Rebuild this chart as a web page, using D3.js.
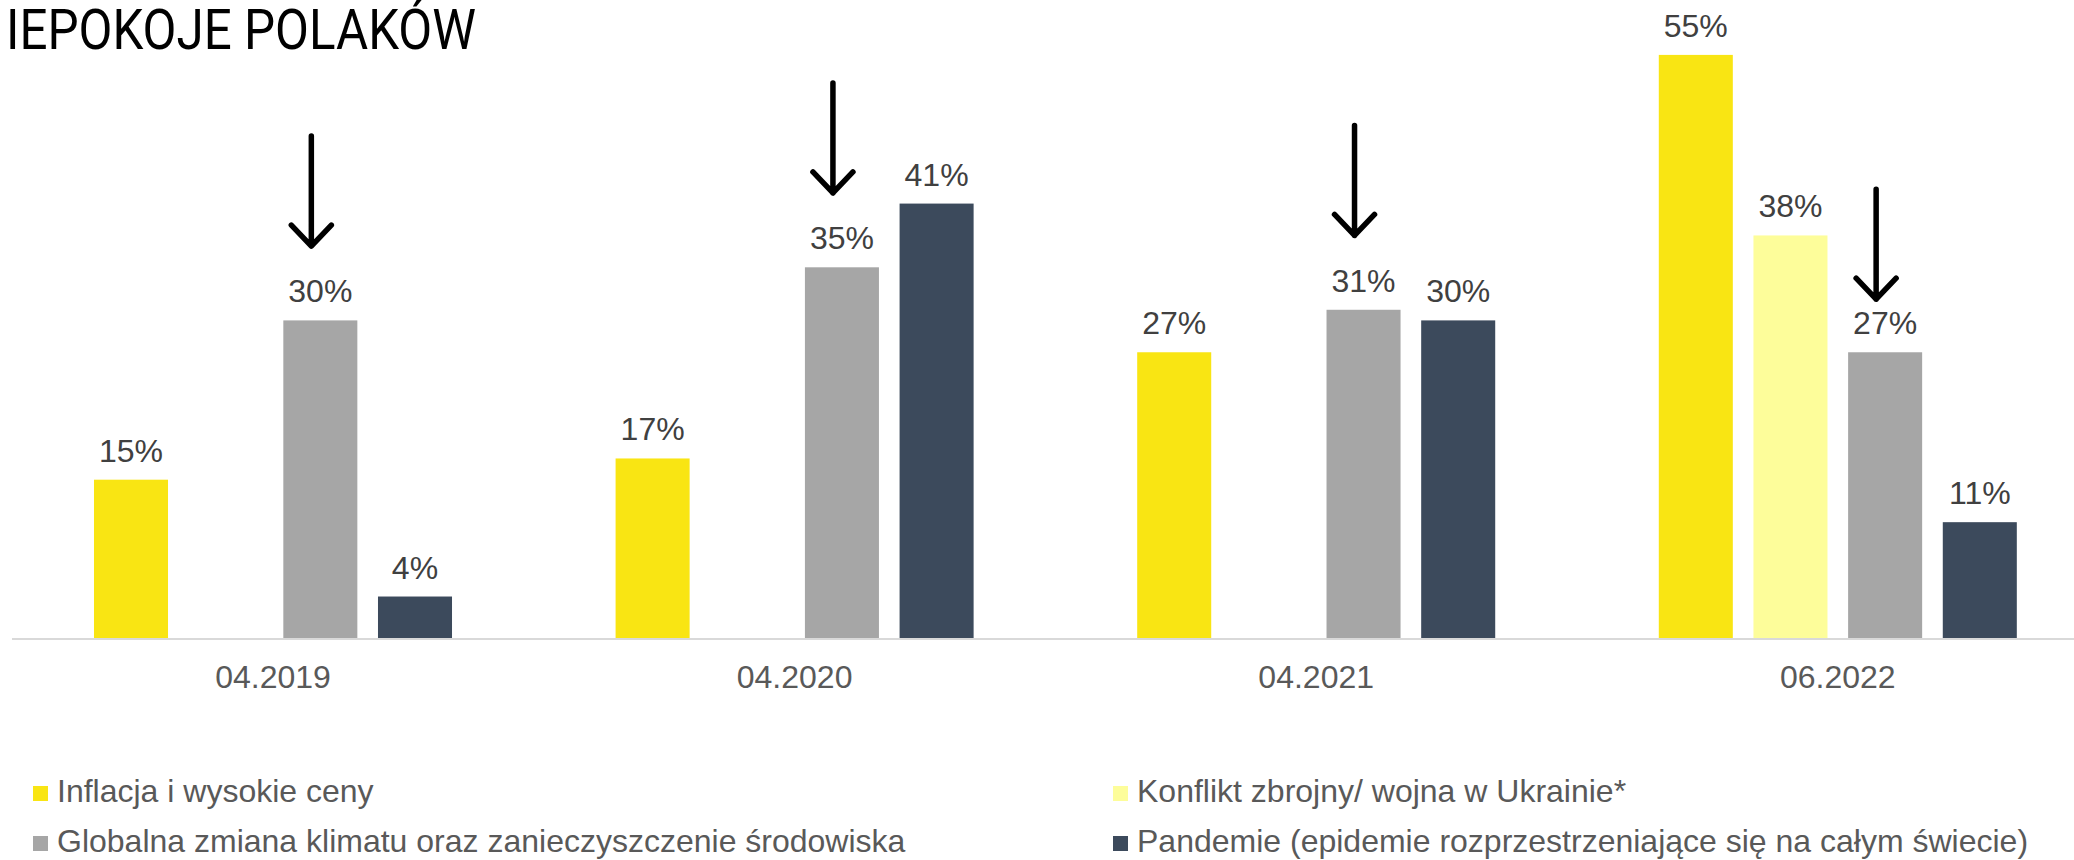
<!DOCTYPE html>
<html>
<head>
<meta charset="utf-8">
<script src="https://cdn.jsdelivr.net/npm/d3@7"></script>
<style>
    body { margin: 0; background: #fff; }
    svg { display: block; font-family: "Liberation Sans", Arial, sans-serif; }
</style>
</head>
<body>
<svg id="chart" width="2074" height="860"></svg>
<script>
// data
const categories = ["04.2019", "04.2020", "04.2021", "06.2022"];
const seriesNames = [
    "Inflacja i wysokie ceny",
    "Konflikt zbrojny/ wojna w Ukrainie*",
    "Globalna zmiana klimatu oraz zanieczyszczenie środowiska",
    "Pandemie (epidemie rozprzestrzeniające się na całym świecie)"
];
const inflacja = [15, 17, 27, 55];
const konflikt = [null, null, null, 38];
const klimat = [30, 35, 31, 27];
const pandemie = [4, 41, 30, 11];
// arrows point at the climate bar, tip height in %
const arrowTips = [37, 42, 38, 32];

const colors = ["#f9e513", "#fdfd9a", "#a6a6a6", "#3c4a5c"];
const allSeries = [inflacja, konflikt, klimat, pandemie];

const svg = d3.select("#chart");
const baseY = 639;

const x = d3.scaleBand()
    .domain(categories)
    .range([12.2, 12.2 + 4 * 521.6])
    .padding(0);

const xs = d3.scaleBand()
    .domain(d3.range(seriesNames.length))
    .range([0, x.bandwidth()])
    .paddingInner(0.218)
    .paddingOuter(0.864);

const y = d3.scaleLinear()
    .domain([0, 60])
    .range([baseY, baseY - 60 * 10.62]);

// title (the first letter is cut off in the original)
svg.append("text")
    .attr("x", 6)
    .attr("y", 49)
    .attr("textLength", 470)
    .attr("lengthAdjust", "spacingAndGlyphs")
    .style("font-family", "Roboto, 'DejaVu Sans Condensed', sans-serif")
    .style("font-weight", 400)
    .style("font-size", "56px")
    .style("fill", "#000")
    .text("IEPOKOJE POLAKÓW");

// bars
const bars = [];
categories.forEach(function (c, i) {
    allSeries.forEach(function (s, j) {
        if (s[i] != null) bars.push({ cat: c, s: j, v: s[i] });
    });
});

svg.append("g")
    .selectAll("rect")
    .data(bars)
    .enter()
    .append("rect")
    .attr("x", function (d) { return x(d.cat) + xs(d.s) })
    .attr("y", function (d) { return y(d.v) })
    .attr("width", xs.bandwidth())
    .attr("height", function (d) { return y(0) - y(d.v) })
    .style("fill", function (d) { return colors[d.s] });

svg.append("g")
    .selectAll("text")
    .data(bars)
    .enter()
    .append("text")
    .attr("x", function (d) { return x(d.cat) + xs(d.s) + xs.bandwidth() / 2 })
    .attr("y", function (d) { return y(d.v) - 18 })
    .attr("text-anchor", "middle")
    .style("font-size", "32px")
    .style("fill", "#404040")
    .text(function (d) { return d.v + "%" });

// baseline
svg.append("line")
    .attr("x1", 12)
    .attr("x2", 2074)
    .attr("y1", baseY)
    .attr("y2", baseY)
    .attr("stroke", "#d9d9d9")
    .attr("stroke-width", 2);

// category labels
svg.append("g")
    .selectAll("text")
    .data(categories)
    .enter()
    .append("text")
    .attr("x", function (d) { return x(d) + x.bandwidth() / 2 })
    .attr("y", 688)
    .attr("text-anchor", "middle")
    .style("font-size", "32px")
    .style("fill", "#595959")
    .text(function (d) { return d });

// arrows
svg.append("g")
    .selectAll("path")
    .data(categories)
    .enter()
    .append("path")
    .attr("d", function (d, i) {
        const cx = x(d) + xs(2) + xs.bandwidth() / 2 - 9;
        const tip = y(arrowTips[i]);
        return "M" + cx + "," + (tip - 110) + "L" + cx + "," + tip +
            "M" + (cx - 20) + "," + (tip - 21) + "L" + cx + "," + tip + "L" + (cx + 20) + "," + (tip - 21);
    })
    .attr("fill", "none")
    .attr("stroke", "#000")
    .attr("stroke-width", 5.5)
    .attr("stroke-linecap", "round")
    .attr("stroke-linejoin", "round");

// legend
const legendPos = [[33, 802], [1113, 802], [33, 852], [1113, 852]];
const legend = svg.append("g")
    .selectAll("g")
    .data(seriesNames)
    .enter()
    .append("g")
    .attr("transform", function (d, i) { return "translate(" + legendPos[i][0] + "," + legendPos[i][1] + ")" });

legend.append("rect")
    .attr("x", 0)
    .attr("y", -16)
    .attr("width", 15)
    .attr("height", 15)
    .style("fill", function (d, i) { return colors[i] });

legend.append("text")
    .attr("x", 24)
    .attr("y", 0)
    .style("font-size", "32px")
    .style("fill", "#595959")
    .text(function (d) { return d });
</script>
</body>
</html>
